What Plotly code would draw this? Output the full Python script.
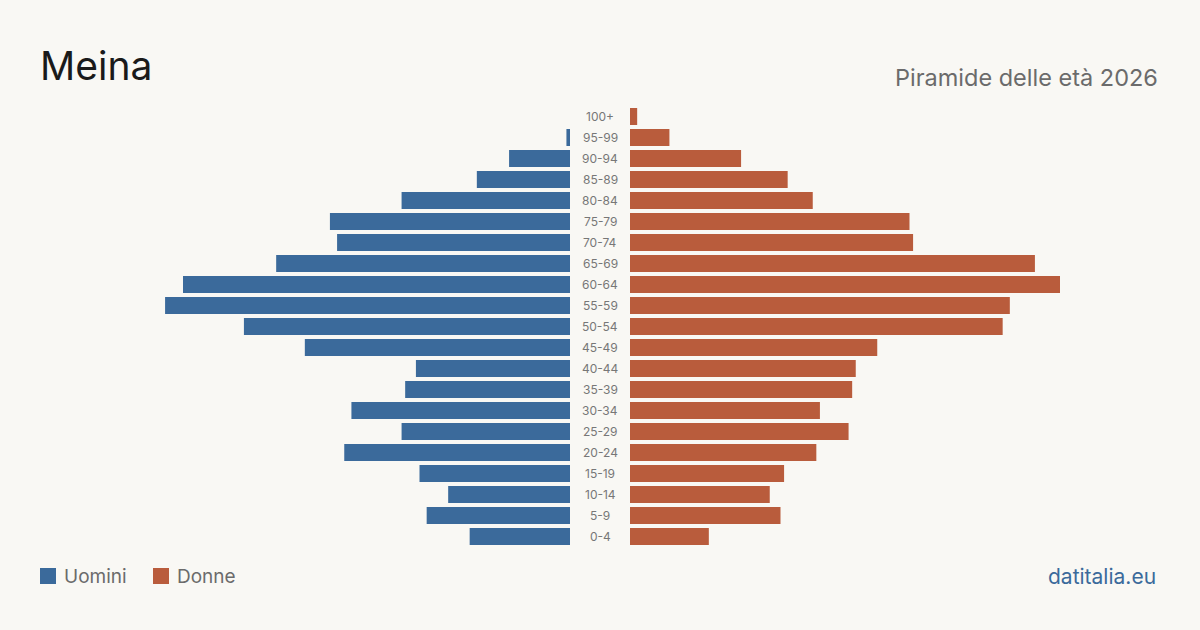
import plotly.graph_objects as go

# ---- data (top row first) ----
age_groups = ["100+", "95-99", "90-94", "85-89", "80-84", "75-79", "70-74", "65-69",
              "60-64", "55-59", "50-54", "45-49", "40-44", "35-39", "30-34", "25-29",
              "20-24", "15-19", "10-14", "5-9", "0-4"]
uomini = [0, 1, 17, 26, 47, 67, 65, 82, 108, 113, 91, 74, 43, 46, 61, 47, 63, 42, 34, 40, 28]
donne = [2, 11, 31, 44, 51, 78, 79, 113, 120, 106, 104, 69, 63, 62, 53, 61, 52, 43, 39, 42, 22]

title_text = "Meina"
subtitle_text = "Piramide delle età 2026"
source_text = "datitalia.eu"
legend_labels = ["Uomini", "Donne"]

BLUE = "#3b6a9b"
ORANGE = "#b95c3c"
BG = "#f9f8f4"
GRAY = "#6b6b6b"
W, H = 1200, 630
T, B = 106, 83
PH = H - T - B

fig = go.Figure()
fig.add_trace(go.Bar(y=age_groups, x=uomini, orientation="h", marker_color=BLUE,
                     marker_line_width=0,
                     xaxis="x", yaxis="y", name=legend_labels[0], showlegend=False,
                     hovertemplate="%{y}: %{x}<extra>Uomini</extra>"))
fig.add_trace(go.Bar(y=age_groups, x=donne, orientation="h", marker_color=ORANGE,
                     marker_line_width=0,
                     xaxis="x2", yaxis="y", name=legend_labels[1], showlegend=False,
                     hovertemplate="%{y}: %{x}<extra>Donne</extra>"))

vmax = max(max(uomini), max(donne))

def px(v):
    return v / W

def py(v):
    return (H - B - v) / PH

annotations = []
for a in age_groups:
    annotations.append(dict(x=0.5, y=a, xref="paper", yref="y", text=a, showarrow=False,
                            font=dict(family="Inter", size=12, color="#777777"),
                            xanchor="center", yanchor="middle"))

annotations += [
    dict(x=px(38), y=py(66), xref="paper", yref="paper", text=title_text, showarrow=False,
         font=dict(family="Inter", size=39, color="#1a1a1a"), xanchor="left", yanchor="middle"),
    dict(x=px(1160), y=py(77), xref="paper", yref="paper", text=subtitle_text, showarrow=False,
         font=dict(family="Inter", size=23.5, color=GRAY), xanchor="right", yanchor="middle"),
    dict(x=px(62), y=py(576), xref="paper", yref="paper", text=legend_labels[0], showarrow=False,
         font=dict(family="Inter", size=19, color=GRAY), xanchor="left", yanchor="middle"),
    dict(x=px(175), y=py(576), xref="paper", yref="paper", text=legend_labels[1], showarrow=False,
         font=dict(family="Inter", size=19, color=GRAY), xanchor="left", yanchor="middle"),
    dict(x=px(1158), y=py(576), xref="paper", yref="paper", text=source_text, showarrow=False,
         font=dict(family="Inter", size=21, color=BLUE), xanchor="right", yanchor="middle"),
]

shapes = [
    dict(type="rect", xref="paper", yref="paper", x0=px(40), x1=px(56), y0=py(584), y1=py(568),
         fillcolor=BLUE, line=dict(width=0)),
    dict(type="rect", xref="paper", yref="paper", x0=px(153), x1=px(169), y0=py(584), y1=py(568),
         fillcolor=ORANGE, line=dict(width=0)),
]

fig.update_layout(
    width=W, height=H,
    margin=dict(l=0, r=0, t=T, b=B),
    paper_bgcolor=BG, plot_bgcolor=BG,
    bargap=0.19,
    xaxis=dict(domain=[px(140), px(570)], range=[vmax, 0], visible=False, fixedrange=True),
    xaxis2=dict(domain=[px(630), px(1060)], range=[0, vmax], visible=False, fixedrange=True),
    yaxis=dict(categoryorder="array", categoryarray=age_groups[::-1], visible=False,
               range=[-0.5, len(age_groups) - 0.5]),
    annotations=annotations,
    shapes=shapes,
    font=dict(family="Inter"),
)

fig.write_html("out.html")
